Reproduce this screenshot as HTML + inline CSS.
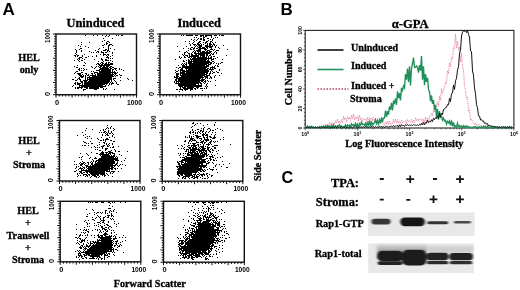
<!DOCTYPE html>
<html><head><meta charset="utf-8"><style>
html,body{margin:0;padding:0;background:#fff;}
svg{display:block;}
</style></head><body>
<svg width="520" height="290" viewBox="0 0 520 290">
<rect width="520" height="290" fill="#fff"/>
<defs><filter id="sb" x="0" y="0" width="100%" height="100%"><feGaussianBlur stdDeviation="0.5"/></filter></defs><g class="scat"><path d="M85 35.5h1M93 35.5h1M97 35.5h1M102 35.5h1M106 35.5h1M109 35.5h1M116 35.5h1M118 35.5h1M121 35.5h2M105 36.5h1M108 36.5h1M103 38.5h1M112 38.5h1M104 40.5h1M102 41.5h1M107 41.5h2M81 42.5h1M89 42.5h1M106 42.5h1M109 42.5h1M106 43.5h2M81 44.5h1M104 44.5h1M106 44.5h1M109 44.5h3M78 45.5h1M102 45.5h2M108 45.5h2M112 45.5h1M80 46.5h1M85 46.5h1M108 46.5h1M88 47.5h1M103 47.5h1M108 47.5h1M80 48.5h2M99 48.5h1M108 48.5h1M110 48.5h1M75 49.5h1M79 49.5h1M98 49.5h1M105 49.5h2M108 49.5h1M114 49.5h1M76 50.5h1M81 50.5h1M95 50.5h1M103 50.5h3M107 50.5h2M76 51.5h1M81 51.5h1M89 51.5h1M97 51.5h2M101 51.5h1M107 51.5h1M109 51.5h1M76 52.5h1M91 52.5h1M93 52.5h1M96 52.5h1M98 52.5h1M101 52.5h3M105 52.5h2M112 52.5h1M75 53.5h1M103 53.5h1M112 53.5h1M76 54.5h1M84 54.5h1M100 54.5h1M103 54.5h3M107 54.5h2M74 55.5h2M77 55.5h2M82 55.5h1M96 55.5h1M103 55.5h1M106 55.5h1M108 55.5h1M112 55.5h1M75 56.5h1M77 56.5h1M82 56.5h1M88 56.5h1M92 56.5h1M96 56.5h1M107 56.5h1M110 56.5h1M79 57.5h3M85 57.5h2M106 57.5h3M78 58.5h2M82 58.5h1M101 58.5h1M108 58.5h1M110 58.5h1M112 58.5h1M77 59.5h1M79 59.5h1M84 59.5h1M94 59.5h1M101 59.5h2M105 59.5h2M74 60.5h1M78 60.5h1M81 60.5h2M102 60.5h1M105 60.5h4M110 60.5h1M79 61.5h1M98 61.5h1M103 61.5h1M112 61.5h1M84 62.5h1M101 62.5h2M106 62.5h1M108 62.5h2M85 63.5h1M97 63.5h2M100 63.5h1M102 63.5h2M105 63.5h2M108 63.5h1M110 63.5h3M96 64.5h1M98 64.5h2M101 64.5h2M104 64.5h9M77 65.5h1M83 65.5h2M99 65.5h11M74 66.5h1M91 66.5h1M96 66.5h1M98 66.5h1M100 66.5h2M103 66.5h2M106 66.5h3M110 66.5h2M76 67.5h2M92 67.5h1M95 67.5h1M99 67.5h2M102 67.5h6M109 67.5h2M112 67.5h2M79 68.5h1M81 68.5h1M83 68.5h1M94 68.5h1M100 68.5h9M110 68.5h2M114 68.5h3M119 68.5h1M78 69.5h2M84 69.5h1M86 69.5h1M99 69.5h12M112 69.5h2M115 69.5h1M119 69.5h1M121 69.5h1M79 70.5h1M81 70.5h1M83 70.5h1M96 70.5h4M101 70.5h10M112 70.5h1M116 70.5h1M123 70.5h1M76 71.5h2M91 71.5h1M93 71.5h1M99 71.5h12M112 71.5h1M114 71.5h1M75 72.5h1M81 72.5h2M94 72.5h4M99 72.5h17M117 72.5h1M74 73.5h1M77 73.5h4M85 73.5h2M91 73.5h2M94 73.5h1M97 73.5h14M112 73.5h1M114 73.5h3M78 74.5h3M82 74.5h1M86 74.5h1M88 74.5h1M92 74.5h1M95 74.5h1M97 74.5h17M115 74.5h1M119 74.5h1M79 75.5h3M83 75.5h1M85 75.5h1M87 75.5h2M90 75.5h6M97 75.5h16M114 75.5h1M116 75.5h2M120 75.5h2M80 76.5h4M85 76.5h1M89 76.5h1M92 76.5h22M115 76.5h1M75 77.5h1M79 77.5h1M81 77.5h2M85 77.5h1M87 77.5h25M120 77.5h1M78 78.5h2M85 78.5h1M87 78.5h1M89 78.5h23M113 78.5h3M127 78.5h1M72 79.5h2M77 79.5h1M79 79.5h2M85 79.5h1M87 79.5h25M113 79.5h1M128 79.5h1M75 80.5h2M80 80.5h1M83 80.5h5M89 80.5h21M111 80.5h1M114 80.5h1M120 80.5h1M132 80.5h1M80 81.5h3M84 81.5h3M88 81.5h22M111 81.5h1M115 81.5h1M75 82.5h1M77 82.5h1M81 82.5h2M84 82.5h25M110 82.5h1M112 82.5h1M116 82.5h1M74 83.5h2M77 83.5h4M82 83.5h1M84 83.5h24M109 83.5h1M111 83.5h3M116 83.5h1M75 84.5h1M77 84.5h3M82 84.5h1M84 84.5h21M106 84.5h1M109 84.5h1M111 84.5h1M117 84.5h2M73 85.5h1M79 85.5h24M105 85.5h1M108 85.5h1M72 86.5h1M79 86.5h1M81 86.5h25M75 87.5h1M77 87.5h6M84 87.5h4M89 87.5h10M100 87.5h3M75 88.5h1M77 88.5h2M81 88.5h1M86 88.5h2M89 88.5h10M103 88.5h1M106 88.5h1M83 89.5h3M94 89.5h3M103 89.5h1M105 89.5h1M114 89.5h1M83 90.5h1" stroke="#000" stroke-width="1" fill="none" filter="url(#sb)"/><rect x="56" y="34" width="80.50" height="60.70" fill="none" stroke="#111" stroke-width="1.4"/><path d="M56 94.70h-3.0M56 92.27h-1.8M56 89.84h-1.8M56 87.42h-1.8M56 84.99h-1.8M56 82.56h-3.0M56 80.13h-1.8M56 77.70h-1.8M56 75.28h-1.8M56 72.85h-1.8M56 70.42h-3.0M56 67.99h-1.8M56 65.56h-1.8M56 63.14h-1.8M56 60.71h-1.8M56 58.28h-3.0M56 55.85h-1.8M56 53.42h-1.8M56 51.00h-1.8M56 48.57h-1.8M56 46.14h-3.0M56 43.71h-1.8M56 41.28h-1.8M56 38.86h-1.8M56 36.43h-1.8M56 34.00h-3.0M56.00 94.7v3.0M59.22 94.7v1.8M62.44 94.7v1.8M65.66 94.7v1.8M68.88 94.7v1.8M72.10 94.7v3.0M75.32 94.7v1.8M78.54 94.7v1.8M81.76 94.7v1.8M84.98 94.7v1.8M88.20 94.7v3.0M91.42 94.7v1.8M94.64 94.7v1.8M97.86 94.7v1.8M101.08 94.7v1.8M104.30 94.7v3.0M107.52 94.7v1.8M110.74 94.7v1.8M113.96 94.7v1.8M117.18 94.7v1.8M120.40 94.7v3.0M123.62 94.7v1.8M126.84 94.7v1.8M130.06 94.7v1.8M133.28 94.7v1.8M136.50 94.7v3.0" stroke="#111" stroke-width="1" fill="none"/><text x="49.7" y="36.0" transform="rotate(-90 49.7 36.0)" text-anchor="middle" font-family="'Liberation Sans', Arial, sans-serif" font-size="7.4" font-weight="bold" textLength="13.8" lengthAdjust="spacingAndGlyphs">1000</text><text x="49.7" y="93.9" transform="rotate(-90 49.7 93.9)" text-anchor="middle" font-family="'Liberation Sans', Arial, sans-serif" font-size="7.4" font-weight="bold">0</text><text x="57.0" y="104.8" text-anchor="middle" font-family="'Liberation Sans', Arial, sans-serif" font-size="7.4" font-weight="bold">0</text><text x="134.5" y="104.8" text-anchor="middle" font-family="'Liberation Sans', Arial, sans-serif" font-size="7.4" font-weight="bold" textLength="14.8" lengthAdjust="spacingAndGlyphs">1000</text><path d="M181 35.5h1M183 35.5h1M186 35.5h7M195 35.5h3M200 35.5h4M205 35.5h7M214 35.5h3M219 35.5h1M221 35.5h3M200 36.5h2M203 36.5h1M205 36.5h2M211 36.5h1M194 37.5h1M196 37.5h1M203 37.5h2M211 37.5h1M215 37.5h1M217 37.5h1M198 38.5h1M200 38.5h2M203 38.5h1M207 38.5h2M213 38.5h1M191 39.5h1M194 39.5h1M197 39.5h1M200 39.5h2M203 39.5h2M210 39.5h1M212 39.5h1M193 40.5h1M196 40.5h1M203 40.5h2M208 40.5h1M212 40.5h1M185 41.5h1M189 41.5h1M194 41.5h1M199 41.5h2M206 41.5h2M210 41.5h2M193 42.5h1M198 42.5h2M203 42.5h1M205 42.5h2M210 42.5h1M212 42.5h1M215 42.5h1M189 43.5h1M192 43.5h1M197 43.5h2M200 43.5h1M205 43.5h1M207 43.5h1M209 43.5h2M213 43.5h1M190 44.5h1M193 44.5h3M197 44.5h3M201 44.5h1M203 44.5h1M207 44.5h1M209 44.5h3M213 44.5h2M190 45.5h1M194 45.5h1M196 45.5h1M198 45.5h4M205 45.5h3M209 45.5h2M212 45.5h1M214 45.5h1M216 45.5h1M223 45.5h1M177 46.5h1M186 46.5h1M195 46.5h1M197 46.5h1M199 46.5h3M205 46.5h8M215 46.5h1M191 47.5h2M194 47.5h1M198 47.5h3M202 47.5h3M206 47.5h2M209 47.5h3M215 47.5h1M218 47.5h1M183 48.5h1M188 48.5h1M190 48.5h1M193 48.5h2M196 48.5h2M199 48.5h7M207 48.5h1M211 48.5h1M219 48.5h1M190 49.5h2M193 49.5h1M198 49.5h3M204 49.5h3M210 49.5h3M214 49.5h1M227 49.5h1M188 50.5h1M194 50.5h1M196 50.5h5M205 50.5h1M207 50.5h3M213 50.5h1M216 50.5h3M179 51.5h1M186 51.5h1M193 51.5h1M195 51.5h1M197 51.5h4M202 51.5h3M206 51.5h2M209 51.5h3M215 51.5h1M184 52.5h2M187 52.5h1M192 52.5h1M194 52.5h2M198 52.5h1M200 52.5h11M214 52.5h1M216 52.5h1M184 53.5h1M188 53.5h2M191 53.5h1M194 53.5h16M211 53.5h1M213 53.5h1M216 53.5h1M182 54.5h1M184 54.5h1M189 54.5h1M191 54.5h2M195 54.5h2M198 54.5h7M206 54.5h2M210 54.5h1M212 54.5h2M183 55.5h1M185 55.5h3M189 55.5h1M191 55.5h8M200 55.5h5M206 55.5h2M209 55.5h2M226 55.5h1M179 56.5h1M184 56.5h1M187 56.5h1M189 56.5h10M200 56.5h1M202 56.5h3M206 56.5h1M208 56.5h1M211 56.5h1M213 56.5h2M179 57.5h1M181 57.5h1M184 57.5h2M188 57.5h2M191 57.5h1M193 57.5h3M197 57.5h10M208 57.5h1M210 57.5h2M217 57.5h1M180 58.5h1M190 58.5h1M192 58.5h20M213 58.5h1M215 58.5h1M175 59.5h1M188 59.5h1M190 59.5h17M208 59.5h1M211 59.5h3M222 59.5h1M183 60.5h1M186 60.5h1M188 60.5h2M191 60.5h1M193 60.5h13M207 60.5h2M211 60.5h1M183 61.5h2M188 61.5h22M212 61.5h2M186 62.5h1M188 62.5h4M193 62.5h19M214 62.5h1M221 62.5h2M182 63.5h1M184 63.5h1M186 63.5h1M188 63.5h21M210 63.5h2M213 63.5h1M216 63.5h1M218 63.5h1M220 63.5h1M181 64.5h1M183 64.5h1M185 64.5h2M189 64.5h18M208 64.5h3M218 64.5h1M178 65.5h1M182 65.5h3M186 65.5h1M189 65.5h16M206 65.5h3M215 65.5h1M217 65.5h1M182 66.5h27M212 66.5h1M214 66.5h1M217 66.5h2M176 67.5h1M179 67.5h2M182 67.5h25M210 67.5h5M178 68.5h1M181 68.5h2M185 68.5h21M207 68.5h2M210 68.5h1M212 68.5h1M214 68.5h2M180 69.5h3M186 69.5h1M188 69.5h20M209 69.5h5M219 69.5h1M175 70.5h1M178 70.5h1M180 70.5h5M186 70.5h23M211 70.5h1M219 70.5h1M176 71.5h2M180 71.5h1M182 71.5h27M210 71.5h1M212 71.5h1M216 71.5h1M175 72.5h1M180 72.5h5M186 72.5h22M210 72.5h1M213 72.5h2M217 72.5h2M176 73.5h3M180 73.5h25M206 73.5h2M209 73.5h2M212 73.5h1M221 73.5h1M176 74.5h3M180 74.5h1M182 74.5h25M209 74.5h1M176 75.5h2M180 75.5h25M206 75.5h4M215 75.5h1M219 75.5h1M174 76.5h1M176 76.5h3M181 76.5h22M204 76.5h4M210 76.5h1M214 76.5h1M174 77.5h4M179 77.5h25M205 77.5h3M210 77.5h2M214 77.5h1M176 78.5h25M202 78.5h1M205 78.5h1M207 78.5h1M209 78.5h1M211 78.5h1M175 79.5h2M178 79.5h22M201 79.5h4M175 80.5h2M178 80.5h26M205 80.5h1M207 80.5h1M215 80.5h1M174 81.5h1M176 81.5h24M201 81.5h2M204 81.5h2M208 81.5h1M210 81.5h1M174 82.5h1M176 82.5h1M178 82.5h1M180 82.5h21M203 82.5h1M205 82.5h1M175 83.5h24M200 83.5h2M204 83.5h1M207 83.5h1M178 84.5h18M198 84.5h1M201 84.5h1M206 84.5h1M178 85.5h24M206 85.5h1M215 85.5h1M179 86.5h4M184 86.5h18M205 86.5h1M207 86.5h1M180 87.5h1M182 87.5h4M187 87.5h7M196 87.5h3M206 87.5h1M180 88.5h1M183 88.5h10M194 88.5h2M197 88.5h1M200 88.5h3M204 88.5h1M206 88.5h1M176 89.5h2M179 89.5h4M184 89.5h4M190 89.5h3M195 89.5h1M182 90.5h1M185 90.5h1M190 90.5h1M202 90.5h1M179 91.5h1" stroke="#000" stroke-width="1" fill="none" filter="url(#sb)"/><rect x="160" y="34" width="80.50" height="60.70" fill="none" stroke="#111" stroke-width="1.4"/><path d="M160 94.70h-3.0M160 92.27h-1.8M160 89.84h-1.8M160 87.42h-1.8M160 84.99h-1.8M160 82.56h-3.0M160 80.13h-1.8M160 77.70h-1.8M160 75.28h-1.8M160 72.85h-1.8M160 70.42h-3.0M160 67.99h-1.8M160 65.56h-1.8M160 63.14h-1.8M160 60.71h-1.8M160 58.28h-3.0M160 55.85h-1.8M160 53.42h-1.8M160 51.00h-1.8M160 48.57h-1.8M160 46.14h-3.0M160 43.71h-1.8M160 41.28h-1.8M160 38.86h-1.8M160 36.43h-1.8M160 34.00h-3.0M160.00 94.7v3.0M163.22 94.7v1.8M166.44 94.7v1.8M169.66 94.7v1.8M172.88 94.7v1.8M176.10 94.7v3.0M179.32 94.7v1.8M182.54 94.7v1.8M185.76 94.7v1.8M188.98 94.7v1.8M192.20 94.7v3.0M195.42 94.7v1.8M198.64 94.7v1.8M201.86 94.7v1.8M205.08 94.7v1.8M208.30 94.7v3.0M211.52 94.7v1.8M214.74 94.7v1.8M217.96 94.7v1.8M221.18 94.7v1.8M224.40 94.7v3.0M227.62 94.7v1.8M230.84 94.7v1.8M234.06 94.7v1.8M237.28 94.7v1.8M240.50 94.7v3.0" stroke="#111" stroke-width="1" fill="none"/><text x="153.7" y="36.0" transform="rotate(-90 153.7 36.0)" text-anchor="middle" font-family="'Liberation Sans', Arial, sans-serif" font-size="7.4" font-weight="bold" textLength="13.8" lengthAdjust="spacingAndGlyphs">1000</text><text x="153.7" y="93.9" transform="rotate(-90 153.7 93.9)" text-anchor="middle" font-family="'Liberation Sans', Arial, sans-serif" font-size="7.4" font-weight="bold">0</text><text x="161.0" y="104.8" text-anchor="middle" font-family="'Liberation Sans', Arial, sans-serif" font-size="7.4" font-weight="bold">0</text><text x="238.5" y="104.8" text-anchor="middle" font-family="'Liberation Sans', Arial, sans-serif" font-size="7.4" font-weight="bold" textLength="14.8" lengthAdjust="spacingAndGlyphs">1000</text><path d="M107 125.5h1M111 126.5h1M107 127.5h1M110 127.5h1M86 128.5h1M106 128.5h1M108 128.5h1M110 128.5h1M113 128.5h1M92 129.5h1M103 129.5h1M105 129.5h1M114 129.5h1M85 130.5h1M100 130.5h1M103 130.5h1M108 130.5h1M113 130.5h1M104 131.5h2M108 131.5h1M111 131.5h1M82 132.5h1M99 132.5h1M101 132.5h1M103 132.5h2M106 132.5h1M108 132.5h1M111 132.5h1M105 133.5h1M107 133.5h1M109 133.5h2M112 133.5h1M85 134.5h1M102 134.5h1M106 134.5h2M113 134.5h1M77 135.5h1M83 135.5h1M102 135.5h1M105 135.5h1M107 135.5h2M112 135.5h1M87 136.5h1M89 136.5h1M112 136.5h1M85 137.5h1M101 137.5h1M109 137.5h1M114 137.5h1M87 138.5h1M91 138.5h1M97 138.5h1M106 138.5h2M98 139.5h1M103 139.5h1M105 139.5h4M100 140.5h2M103 140.5h1M105 140.5h1M110 140.5h2M83 141.5h1M90 141.5h1M105 141.5h1M113 141.5h2M84 142.5h2M99 142.5h1M103 142.5h2M86 143.5h1M88 143.5h1M91 143.5h2M104 143.5h1M106 143.5h1M109 143.5h1M112 143.5h1M99 144.5h1M106 144.5h1M108 144.5h1M112 144.5h1M82 145.5h1M84 145.5h2M88 145.5h1M97 145.5h1M103 145.5h2M107 145.5h1M109 145.5h1M94 146.5h1M101 146.5h3M107 146.5h2M113 146.5h1M118 146.5h1M91 147.5h1M95 147.5h1M97 147.5h1M99 147.5h1M102 147.5h1M110 147.5h1M112 147.5h2M102 148.5h1M105 148.5h3M95 149.5h1M97 149.5h1M105 149.5h2M114 149.5h1M99 150.5h2M105 150.5h1M111 150.5h1M115 150.5h1M102 151.5h1M108 151.5h3M115 151.5h1M118 151.5h2M127 151.5h1M91 152.5h1M101 152.5h3M105 152.5h3M109 152.5h4M80 153.5h1M86 153.5h1M96 153.5h2M100 153.5h4M106 153.5h1M108 153.5h3M112 153.5h3M87 154.5h1M99 154.5h10M110 154.5h1M114 154.5h1M119 154.5h1M88 155.5h1M100 155.5h1M102 155.5h8M111 155.5h1M113 155.5h2M121 155.5h1M82 156.5h1M101 156.5h14M116 156.5h1M79 157.5h1M81 157.5h1M90 157.5h1M95 157.5h1M101 157.5h13M115 157.5h1M117 157.5h1M89 158.5h1M94 158.5h3M99 158.5h19M125 158.5h1M81 159.5h1M92 159.5h1M98 159.5h20M93 160.5h1M96 160.5h18M115 160.5h4M124 160.5h1M74 161.5h1M82 161.5h1M91 161.5h1M93 161.5h1M95 161.5h2M98 161.5h17M117 161.5h1M121 161.5h1M80 162.5h1M83 162.5h2M87 162.5h2M90 162.5h1M92 162.5h1M95 162.5h1M97 162.5h18M117 162.5h1M79 163.5h1M81 163.5h3M85 163.5h1M88 163.5h1M91 163.5h2M95 163.5h20M116 163.5h2M74 164.5h1M76 164.5h1M80 164.5h3M84 164.5h1M88 164.5h1M91 164.5h2M94 164.5h19M115 164.5h2M120 164.5h1M122 164.5h1M80 165.5h2M85 165.5h3M90 165.5h1M92 165.5h24M117 165.5h1M119 165.5h1M125 165.5h1M76 166.5h1M78 166.5h1M82 166.5h1M86 166.5h27M114 166.5h1M118 166.5h1M76 167.5h1M80 167.5h1M83 167.5h2M86 167.5h1M88 167.5h22M111 167.5h3M75 168.5h1M79 168.5h4M84 168.5h1M87 168.5h26M114 168.5h2M117 168.5h1M121 168.5h1M78 169.5h1M81 169.5h1M83 169.5h1M86 169.5h1M88 169.5h22M111 169.5h2M115 169.5h1M76 170.5h1M81 170.5h27M109 170.5h1M74 171.5h2M79 171.5h3M85 171.5h20M106 171.5h4M111 171.5h4M118 171.5h1M80 172.5h2M83 172.5h2M86 172.5h2M89 172.5h16M110 172.5h1M113 172.5h1M77 173.5h1M79 173.5h1M81 173.5h2M87 173.5h1M90 173.5h15M106 173.5h1M110 173.5h1M112 173.5h1M77 174.5h1M83 174.5h4M88 174.5h2M91 174.5h8M100 174.5h5M107 174.5h1M78 175.5h1M80 175.5h1M83 175.5h1M86 175.5h2M89 175.5h1M92 175.5h4M97 175.5h2M102 175.5h1M104 175.5h2M108 175.5h1M77 176.5h1M85 176.5h1M87 176.5h1M91 176.5h1M94 176.5h3M99 176.5h1M104 176.5h1M112 176.5h1M90 177.5h1M96 177.5h1M98 177.5h1" stroke="#000" stroke-width="1" fill="none" filter="url(#sb)"/><rect x="59.5" y="120.5" width="80.50" height="60.50" fill="none" stroke="#111" stroke-width="1.4"/><path d="M59.5 181.00h-3.0M59.5 178.58h-1.8M59.5 176.16h-1.8M59.5 173.74h-1.8M59.5 171.32h-1.8M59.5 168.90h-3.0M59.5 166.48h-1.8M59.5 164.06h-1.8M59.5 161.64h-1.8M59.5 159.22h-1.8M59.5 156.80h-3.0M59.5 154.38h-1.8M59.5 151.96h-1.8M59.5 149.54h-1.8M59.5 147.12h-1.8M59.5 144.70h-3.0M59.5 142.28h-1.8M59.5 139.86h-1.8M59.5 137.44h-1.8M59.5 135.02h-1.8M59.5 132.60h-3.0M59.5 130.18h-1.8M59.5 127.76h-1.8M59.5 125.34h-1.8M59.5 122.92h-1.8M59.5 120.50h-3.0M59.50 181v3.0M62.72 181v1.8M65.94 181v1.8M69.16 181v1.8M72.38 181v1.8M75.60 181v3.0M78.82 181v1.8M82.04 181v1.8M85.26 181v1.8M88.48 181v1.8M91.70 181v3.0M94.92 181v1.8M98.14 181v1.8M101.36 181v1.8M104.58 181v1.8M107.80 181v3.0M111.02 181v1.8M114.24 181v1.8M117.46 181v1.8M120.68 181v1.8M123.90 181v3.0M127.12 181v1.8M130.34 181v1.8M133.56 181v1.8M136.78 181v1.8M140.00 181v3.0" stroke="#111" stroke-width="1" fill="none"/><text x="53.2" y="122.5" transform="rotate(-90 53.2 122.5)" text-anchor="middle" font-family="'Liberation Sans', Arial, sans-serif" font-size="7.4" font-weight="bold" textLength="13.8" lengthAdjust="spacingAndGlyphs">1000</text><text x="53.2" y="180.2" transform="rotate(-90 53.2 180.2)" text-anchor="middle" font-family="'Liberation Sans', Arial, sans-serif" font-size="7.4" font-weight="bold">0</text><text x="60.5" y="191.1" text-anchor="middle" font-family="'Liberation Sans', Arial, sans-serif" font-size="7.4" font-weight="bold">0</text><text x="138.0" y="191.1" text-anchor="middle" font-family="'Liberation Sans', Arial, sans-serif" font-size="7.4" font-weight="bold" textLength="14.8" lengthAdjust="spacingAndGlyphs">1000</text><path d="M193 122.5h1M215 122.5h1M192 123.5h2M197 123.5h1M200 123.5h1M195 124.5h1M207 124.5h1M214 124.5h1M194 125.5h1M203 125.5h1M214 125.5h1M192 126.5h1M191 127.5h1M204 127.5h1M201 128.5h1M203 128.5h1M208 128.5h2M217 128.5h1M192 129.5h1M197 129.5h2M203 129.5h1M207 129.5h1M210 129.5h1M215 129.5h1M220 129.5h1M192 130.5h1M195 130.5h1M200 130.5h2M203 130.5h1M210 130.5h1M212 130.5h2M222 130.5h1M190 131.5h1M193 131.5h1M198 131.5h1M200 131.5h1M202 131.5h2M206 131.5h1M209 131.5h1M189 132.5h2M192 132.5h2M195 132.5h1M197 132.5h1M199 132.5h1M202 132.5h1M205 132.5h1M208 132.5h1M212 132.5h1M215 132.5h1M190 133.5h1M195 133.5h1M197 133.5h1M200 133.5h1M203 133.5h1M205 133.5h1M193 134.5h1M202 134.5h3M206 134.5h2M211 134.5h1M215 134.5h1M189 135.5h1M195 135.5h3M202 135.5h2M205 135.5h3M214 135.5h1M185 136.5h1M189 136.5h1M191 136.5h1M193 136.5h1M196 136.5h5M203 136.5h1M207 136.5h1M209 136.5h2M214 136.5h1M185 137.5h1M187 137.5h1M189 137.5h1M191 137.5h1M196 137.5h3M203 137.5h2M206 137.5h2M210 137.5h2M213 137.5h3M223 137.5h1M190 138.5h4M197 138.5h1M199 138.5h3M204 138.5h1M207 138.5h1M212 138.5h3M190 139.5h3M194 139.5h1M201 139.5h1M204 139.5h5M210 139.5h1M220 139.5h1M223 139.5h1M185 140.5h1M189 140.5h2M192 140.5h4M200 140.5h1M203 140.5h1M205 140.5h4M211 140.5h1M184 141.5h2M189 141.5h1M191 141.5h1M196 141.5h1M201 141.5h3M206 141.5h1M210 141.5h2M213 141.5h1M215 141.5h1M217 141.5h1M188 142.5h1M196 142.5h3M200 142.5h3M204 142.5h2M209 142.5h2M214 142.5h1M188 143.5h1M190 143.5h1M192 143.5h4M202 143.5h1M204 143.5h1M208 143.5h1M210 143.5h1M184 144.5h1M193 144.5h2M197 144.5h2M200 144.5h1M203 144.5h1M206 144.5h4M211 144.5h1M230 144.5h1M177 145.5h1M181 145.5h1M188 145.5h2M191 145.5h6M198 145.5h1M203 145.5h1M208 145.5h1M214 145.5h4M182 146.5h1M187 146.5h1M191 146.5h1M193 146.5h3M198 146.5h1M200 146.5h4M205 146.5h1M207 146.5h1M212 146.5h2M184 147.5h1M188 147.5h3M192 147.5h2M195 147.5h2M199 147.5h1M201 147.5h3M207 147.5h3M214 147.5h2M178 148.5h1M181 148.5h1M183 148.5h1M189 148.5h2M192 148.5h5M198 148.5h1M200 148.5h1M202 148.5h4M207 148.5h2M211 148.5h1M214 148.5h2M184 149.5h1M186 149.5h3M190 149.5h10M201 149.5h4M207 149.5h2M210 149.5h1M212 149.5h1M186 150.5h1M188 150.5h1M190 150.5h6M198 150.5h9M208 150.5h2M212 150.5h2M218 150.5h1M185 151.5h2M188 151.5h1M190 151.5h1M192 151.5h3M196 151.5h2M199 151.5h3M203 151.5h1M205 151.5h2M209 151.5h2M216 151.5h1M188 152.5h8M197 152.5h1M199 152.5h1M201 152.5h4M206 152.5h1M210 152.5h1M212 152.5h1M178 153.5h1M180 153.5h1M183 153.5h1M185 153.5h1M187 153.5h2M190 153.5h3M194 153.5h5M200 153.5h3M204 153.5h3M217 153.5h1M180 154.5h1M187 154.5h3M191 154.5h8M200 154.5h1M202 154.5h5M208 154.5h1M211 154.5h1M179 155.5h1M183 155.5h1M187 155.5h18M206 155.5h2M212 155.5h1M214 155.5h1M185 156.5h2M191 156.5h14M206 156.5h1M209 156.5h4M222 156.5h1M180 157.5h1M182 157.5h3M186 157.5h18M210 157.5h1M212 157.5h2M217 157.5h1M220 157.5h1M184 158.5h18M206 158.5h2M209 158.5h2M215 158.5h1M182 159.5h24M210 159.5h2M213 159.5h1M181 160.5h19M201 160.5h4M208 160.5h1M210 160.5h1M213 160.5h2M216 160.5h1M177 161.5h1M179 161.5h4M185 161.5h21M207 161.5h1M222 161.5h1M177 162.5h2M181 162.5h3M185 162.5h1M187 162.5h19M208 162.5h2M212 162.5h1M178 163.5h2M181 163.5h1M184 163.5h19M206 163.5h3M213 163.5h1M229 163.5h1M178 164.5h2M181 164.5h19M201 164.5h2M206 164.5h1M216 164.5h1M219 164.5h1M223 164.5h1M179 165.5h2M182 165.5h25M215 165.5h1M176 166.5h30M215 166.5h1M221 166.5h1M177 167.5h1M179 167.5h20M200 167.5h2M203 167.5h2M206 167.5h1M213 167.5h1M226 167.5h2M178 168.5h24M209 168.5h1M177 169.5h26M204 169.5h1M207 169.5h1M210 169.5h4M216 169.5h1M178 170.5h23M202 170.5h2M205 170.5h1M212 170.5h1M177 171.5h21M200 171.5h2M203 171.5h2M177 172.5h20M198 172.5h1M217 172.5h1M177 173.5h15M195 173.5h1M199 173.5h1M203 173.5h1M206 173.5h2M177 174.5h2M180 174.5h3M184 174.5h8M193 174.5h3M197 174.5h2M200 174.5h5M206 174.5h1M209 174.5h1M178 175.5h2M181 175.5h2M185 175.5h8M194 175.5h1M196 175.5h1M199 175.5h1M201 175.5h2M204 175.5h1M207 175.5h1M211 175.5h2M179 176.5h1M183 176.5h7M192 176.5h3M196 176.5h3M202 176.5h1M207 176.5h1M211 176.5h1M182 177.5h2M185 177.5h1M188 177.5h1M191 177.5h2M194 177.5h4M200 177.5h1M208 177.5h1M178 178.5h1M182 178.5h1M184 178.5h2M189 178.5h1M193 178.5h2M197 178.5h1M202 178.5h1M204 178.5h2M207 178.5h1" stroke="#000" stroke-width="1" fill="none" filter="url(#sb)"/><rect x="162.2" y="120.5" width="80.60" height="60.70" fill="none" stroke="#111" stroke-width="1.4"/><path d="M162.2 181.20h-3.0M162.2 178.77h-1.8M162.2 176.34h-1.8M162.2 173.92h-1.8M162.2 171.49h-1.8M162.2 169.06h-3.0M162.2 166.63h-1.8M162.2 164.20h-1.8M162.2 161.78h-1.8M162.2 159.35h-1.8M162.2 156.92h-3.0M162.2 154.49h-1.8M162.2 152.06h-1.8M162.2 149.64h-1.8M162.2 147.21h-1.8M162.2 144.78h-3.0M162.2 142.35h-1.8M162.2 139.92h-1.8M162.2 137.50h-1.8M162.2 135.07h-1.8M162.2 132.64h-3.0M162.2 130.21h-1.8M162.2 127.78h-1.8M162.2 125.36h-1.8M162.2 122.93h-1.8M162.2 120.50h-3.0M162.20 181.2v3.0M165.42 181.2v1.8M168.65 181.2v1.8M171.87 181.2v1.8M175.10 181.2v1.8M178.32 181.2v3.0M181.54 181.2v1.8M184.77 181.2v1.8M187.99 181.2v1.8M191.22 181.2v1.8M194.44 181.2v3.0M197.66 181.2v1.8M200.89 181.2v1.8M204.11 181.2v1.8M207.34 181.2v1.8M210.56 181.2v3.0M213.78 181.2v1.8M217.01 181.2v1.8M220.23 181.2v1.8M223.46 181.2v1.8M226.68 181.2v3.0M229.90 181.2v1.8M233.13 181.2v1.8M236.35 181.2v1.8M239.58 181.2v1.8M242.80 181.2v3.0" stroke="#111" stroke-width="1" fill="none"/><text x="155.9" y="122.5" transform="rotate(-90 155.9 122.5)" text-anchor="middle" font-family="'Liberation Sans', Arial, sans-serif" font-size="7.4" font-weight="bold" textLength="13.8" lengthAdjust="spacingAndGlyphs">1000</text><text x="155.9" y="180.4" transform="rotate(-90 155.9 180.4)" text-anchor="middle" font-family="'Liberation Sans', Arial, sans-serif" font-size="7.4" font-weight="bold">0</text><text x="163.2" y="191.3" text-anchor="middle" font-family="'Liberation Sans', Arial, sans-serif" font-size="7.4" font-weight="bold">0</text><text x="240.8" y="191.3" text-anchor="middle" font-family="'Liberation Sans', Arial, sans-serif" font-size="7.4" font-weight="bold" textLength="14.8" lengthAdjust="spacingAndGlyphs">1000</text><path d="M88 202.5h1M90 202.5h1M92 202.5h1M95 202.5h3M101 202.5h3M108 202.5h2M112 202.5h1M114 202.5h1M120 202.5h1M125 202.5h1M110 203.5h1M109 205.5h1M112 206.5h1M108 208.5h3M86 209.5h1M92 209.5h1M114 209.5h1M93 210.5h1M105 210.5h2M110 210.5h1M113 210.5h1M105 211.5h1M109 211.5h1M111 211.5h1M113 211.5h1M94 212.5h1M97 212.5h2M100 212.5h1M102 212.5h1M105 212.5h1M109 212.5h1M116 212.5h1M89 213.5h1M96 213.5h1M101 213.5h1M105 213.5h1M107 213.5h1M111 213.5h1M87 214.5h1M94 214.5h1M111 214.5h1M97 215.5h1M107 215.5h3M111 215.5h2M86 216.5h2M98 216.5h1M100 216.5h1M105 216.5h1M108 216.5h1M111 216.5h1M113 216.5h1M92 217.5h1M96 217.5h1M99 217.5h1M103 217.5h2M107 217.5h2M95 218.5h1M100 218.5h1M103 218.5h1M110 218.5h1M112 218.5h1M92 219.5h2M100 219.5h1M103 219.5h1M111 219.5h1M113 219.5h1M85 220.5h1M88 220.5h1M94 220.5h1M101 220.5h4M84 221.5h1M100 221.5h1M103 221.5h1M108 221.5h1M114 221.5h1M86 222.5h1M97 222.5h3M102 222.5h2M108 222.5h1M87 223.5h1M89 223.5h1M94 223.5h1M100 223.5h1M104 223.5h1M114 223.5h1M118 223.5h1M76 224.5h1M87 224.5h1M98 224.5h1M106 224.5h2M116 224.5h1M94 225.5h1M96 225.5h1M100 225.5h1M104 225.5h1M107 225.5h2M87 226.5h1M89 226.5h1M98 226.5h1M101 226.5h2M109 226.5h2M116 226.5h1M84 227.5h1M101 227.5h2M105 227.5h2M108 227.5h1M111 227.5h1M102 228.5h3M108 228.5h1M76 229.5h1M80 229.5h1M84 229.5h1M86 229.5h1M88 229.5h1M95 229.5h1M97 229.5h1M99 229.5h1M102 229.5h1M104 229.5h3M109 229.5h1M83 230.5h1M85 230.5h2M92 230.5h1M97 230.5h1M100 230.5h1M105 230.5h1M107 230.5h1M111 230.5h1M113 230.5h1M87 231.5h2M100 231.5h1M103 231.5h1M106 231.5h2M81 232.5h1M83 232.5h1M85 232.5h1M88 232.5h1M99 232.5h1M101 232.5h1M105 232.5h1M111 232.5h1M114 232.5h1M84 233.5h1M104 233.5h3M111 233.5h1M76 234.5h1M80 234.5h1M87 234.5h1M98 234.5h1M103 234.5h5M116 234.5h1M79 235.5h2M82 235.5h1M85 235.5h1M87 235.5h1M91 235.5h1M94 235.5h1M97 235.5h2M100 235.5h3M104 235.5h2M109 235.5h1M111 235.5h1M114 235.5h1M123 235.5h1M79 236.5h1M98 236.5h2M101 236.5h2M105 236.5h7M113 236.5h1M115 236.5h1M75 237.5h2M78 237.5h1M86 237.5h1M94 237.5h1M98 237.5h13M115 237.5h1M119 237.5h1M122 237.5h1M125 237.5h1M77 238.5h1M79 238.5h2M85 238.5h1M100 238.5h12M113 238.5h4M80 239.5h1M82 239.5h1M84 239.5h1M97 239.5h1M99 239.5h1M101 239.5h10M113 239.5h2M77 240.5h1M81 240.5h4M87 240.5h1M97 240.5h16M117 240.5h1M125 240.5h1M79 241.5h1M81 241.5h2M84 241.5h1M90 241.5h1M92 241.5h2M95 241.5h1M97 241.5h2M101 241.5h11M113 241.5h1M115 241.5h3M122 241.5h1M77 242.5h1M80 242.5h2M87 242.5h1M90 242.5h1M93 242.5h20M116 242.5h1M120 242.5h1M76 243.5h1M78 243.5h1M83 243.5h1M88 243.5h1M90 243.5h3M94 243.5h1M96 243.5h16M113 243.5h1M115 243.5h2M118 243.5h1M79 244.5h1M83 244.5h1M86 244.5h1M90 244.5h1M93 244.5h1M95 244.5h18M116 244.5h1M120 244.5h1M81 245.5h2M86 245.5h2M89 245.5h2M92 245.5h21M114 245.5h2M117 245.5h1M119 245.5h1M121 245.5h1M80 246.5h1M82 246.5h1M84 246.5h1M86 246.5h4M91 246.5h21M114 246.5h1M118 246.5h2M79 247.5h3M83 247.5h1M85 247.5h1M88 247.5h1M90 247.5h23M117 247.5h1M80 248.5h2M84 248.5h3M89 248.5h23M113 248.5h1M83 249.5h1M85 249.5h1M87 249.5h27M115 249.5h2M77 250.5h1M79 250.5h1M84 250.5h1M87 250.5h22M110 250.5h2M113 250.5h1M117 250.5h1M75 251.5h1M78 251.5h1M80 251.5h1M83 251.5h1M85 251.5h27M113 251.5h1M79 252.5h1M81 252.5h26M112 252.5h1M114 252.5h1M123 252.5h1M78 253.5h3M85 253.5h20M106 253.5h1M108 253.5h2M78 254.5h1M80 254.5h1M83 254.5h2M86 254.5h4M91 254.5h12M104 254.5h2M107 254.5h1M109 254.5h1M113 254.5h1M78 255.5h4M84 255.5h3M88 255.5h12M101 255.5h1M104 255.5h4M114 255.5h1M76 256.5h1M79 256.5h1M81 256.5h2M84 256.5h1M90 256.5h10M104 256.5h1M108 256.5h2M76 257.5h1M78 257.5h1M81 257.5h1M85 257.5h2M92 257.5h2M97 257.5h1M99 257.5h2M104 257.5h1M107 257.5h1M82 258.5h2M86 258.5h1M89 258.5h6M96 258.5h1M98 258.5h1M101 258.5h2M104 258.5h1M79 259.5h1M98 259.5h1M101 259.5h1M104 259.5h1" stroke="#000" stroke-width="1" fill="none" filter="url(#sb)"/><rect x="60.2" y="201.3" width="80.60" height="60.50" fill="none" stroke="#111" stroke-width="1.4"/><path d="M60.2 261.80h-3.0M60.2 259.38h-1.8M60.2 256.96h-1.8M60.2 254.54h-1.8M60.2 252.12h-1.8M60.2 249.70h-3.0M60.2 247.28h-1.8M60.2 244.86h-1.8M60.2 242.44h-1.8M60.2 240.02h-1.8M60.2 237.60h-3.0M60.2 235.18h-1.8M60.2 232.76h-1.8M60.2 230.34h-1.8M60.2 227.92h-1.8M60.2 225.50h-3.0M60.2 223.08h-1.8M60.2 220.66h-1.8M60.2 218.24h-1.8M60.2 215.82h-1.8M60.2 213.40h-3.0M60.2 210.98h-1.8M60.2 208.56h-1.8M60.2 206.14h-1.8M60.2 203.72h-1.8M60.2 201.30h-3.0M60.20 261.8v3.0M63.42 261.8v1.8M66.65 261.8v1.8M69.87 261.8v1.8M73.10 261.8v1.8M76.32 261.8v3.0M79.54 261.8v1.8M82.77 261.8v1.8M85.99 261.8v1.8M89.22 261.8v1.8M92.44 261.8v3.0M95.66 261.8v1.8M98.89 261.8v1.8M102.11 261.8v1.8M105.34 261.8v1.8M108.56 261.8v3.0M111.78 261.8v1.8M115.01 261.8v1.8M118.23 261.8v1.8M121.46 261.8v1.8M124.68 261.8v3.0M127.90 261.8v1.8M131.13 261.8v1.8M134.35 261.8v1.8M137.58 261.8v1.8M140.80 261.8v3.0" stroke="#111" stroke-width="1" fill="none"/><text x="53.9" y="203.3" transform="rotate(-90 53.9 203.3)" text-anchor="middle" font-family="'Liberation Sans', Arial, sans-serif" font-size="7.4" font-weight="bold" textLength="13.8" lengthAdjust="spacingAndGlyphs">1000</text><text x="53.9" y="261.0" transform="rotate(-90 53.9 261.0)" text-anchor="middle" font-family="'Liberation Sans', Arial, sans-serif" font-size="7.4" font-weight="bold">0</text><text x="61.2" y="271.9" text-anchor="middle" font-family="'Liberation Sans', Arial, sans-serif" font-size="7.4" font-weight="bold">0</text><text x="138.8" y="271.9" text-anchor="middle" font-family="'Liberation Sans', Arial, sans-serif" font-size="7.4" font-weight="bold" textLength="14.8" lengthAdjust="spacingAndGlyphs">1000</text><path d="M188 202.5h1M190 202.5h1M193 202.5h2M196 202.5h3M202 202.5h4M208 202.5h2M211 202.5h4M216 202.5h3M221 202.5h1M226 202.5h1M203 203.5h1M210 203.5h1M212 203.5h2M195 204.5h1M204 204.5h2M210 205.5h1M212 205.5h2M192 206.5h1M202 206.5h1M207 206.5h1M208 207.5h1M211 207.5h1M213 207.5h1M198 208.5h1M203 208.5h1M206 208.5h1M208 208.5h2M217 208.5h1M194 209.5h1M208 209.5h1M210 209.5h1M213 209.5h1M221 209.5h1M191 210.5h1M198 210.5h1M202 210.5h1M208 210.5h1M222 210.5h1M204 211.5h1M206 211.5h1M208 211.5h1M219 211.5h1M188 212.5h1M193 212.5h1M199 212.5h1M201 212.5h1M203 212.5h1M205 212.5h1M210 212.5h1M215 212.5h1M224 212.5h1M195 213.5h1M197 213.5h1M203 213.5h1M207 213.5h1M210 213.5h3M221 213.5h1M198 214.5h1M205 214.5h1M207 214.5h1M210 214.5h2M213 214.5h1M193 215.5h2M197 215.5h1M200 215.5h1M202 215.5h1M204 215.5h2M209 215.5h2M212 215.5h2M215 215.5h1M189 216.5h1M195 216.5h1M198 216.5h2M203 216.5h3M207 216.5h1M209 216.5h1M211 216.5h1M213 216.5h2M218 216.5h1M197 217.5h1M200 217.5h1M203 217.5h1M205 217.5h6M214 217.5h4M191 218.5h1M193 218.5h1M198 218.5h4M203 218.5h1M206 218.5h1M208 218.5h1M212 218.5h2M215 218.5h2M183 219.5h1M193 219.5h1M199 219.5h2M203 219.5h2M206 219.5h3M210 219.5h2M216 219.5h1M219 219.5h1M221 219.5h1M188 220.5h1M194 220.5h1M196 220.5h6M206 220.5h5M212 220.5h3M216 220.5h1M188 221.5h1M197 221.5h1M200 221.5h1M203 221.5h7M213 221.5h1M215 221.5h1M217 221.5h1M219 221.5h1M224 221.5h1M191 222.5h1M195 222.5h1M197 222.5h4M202 222.5h7M211 222.5h1M213 222.5h4M218 222.5h2M193 223.5h3M198 223.5h13M212 223.5h1M215 223.5h5M190 224.5h1M195 224.5h1M197 224.5h17M215 224.5h1M217 224.5h3M223 224.5h2M184 225.5h1M191 225.5h4M198 225.5h13M212 225.5h4M217 225.5h3M193 226.5h2M196 226.5h20M219 226.5h1M221 226.5h2M224 226.5h1M183 227.5h1M189 227.5h1M195 227.5h2M198 227.5h16M216 227.5h3M220 227.5h1M189 228.5h1M191 228.5h3M196 228.5h1M198 228.5h16M217 228.5h2M223 228.5h1M225 228.5h1M185 229.5h1M187 229.5h1M192 229.5h1M194 229.5h1M196 229.5h23M222 229.5h1M185 230.5h1M188 230.5h1M190 230.5h1M192 230.5h1M194 230.5h1M196 230.5h26M188 231.5h1M192 231.5h24M217 231.5h1M219 231.5h1M221 231.5h1M224 231.5h1M226 231.5h1M185 232.5h3M190 232.5h3M194 232.5h26M224 232.5h1M187 233.5h2M191 233.5h3M195 233.5h21M217 233.5h2M226 233.5h2M180 234.5h1M185 234.5h2M189 234.5h27M217 234.5h2M228 234.5h1M185 235.5h1M189 235.5h3M193 235.5h24M218 235.5h1M222 235.5h1M224 235.5h1M183 236.5h1M186 236.5h1M188 236.5h2M191 236.5h26M177 237.5h1M183 237.5h1M185 237.5h1M187 237.5h1M189 237.5h1M191 237.5h23M215 237.5h1M220 237.5h1M222 237.5h1M229 237.5h1M178 238.5h1M180 238.5h1M184 238.5h1M186 238.5h4M192 238.5h23M216 238.5h3M225 238.5h2M185 239.5h3M189 239.5h26M217 239.5h1M219 239.5h1M179 240.5h5M185 240.5h2M188 240.5h31M221 240.5h2M224 240.5h1M179 241.5h1M181 241.5h2M184 241.5h2M187 241.5h27M216 241.5h1M218 241.5h3M224 241.5h1M178 242.5h1M181 242.5h3M185 242.5h31M217 242.5h1M222 242.5h1M179 243.5h5M185 243.5h28M215 243.5h1M217 243.5h1M178 244.5h2M181 244.5h2M185 244.5h26M212 244.5h2M179 245.5h2M184 245.5h2M187 245.5h23M211 245.5h3M219 245.5h1M222 245.5h1M178 246.5h1M180 246.5h33M214 246.5h3M179 247.5h1M181 247.5h29M211 247.5h1M214 247.5h1M219 247.5h1M179 248.5h34M216 248.5h1M222 248.5h1M179 249.5h3M183 249.5h26M210 249.5h2M218 249.5h1M179 250.5h1M181 250.5h26M208 250.5h2M211 250.5h1M215 250.5h1M180 251.5h1M182 251.5h2M185 251.5h16M202 251.5h4M208 251.5h3M216 251.5h1M222 251.5h1M179 252.5h2M182 252.5h1M185 252.5h22M208 252.5h2M219 252.5h1M180 253.5h10M191 253.5h6M198 253.5h5M204 253.5h5M216 253.5h1M181 254.5h1M183 254.5h4M189 254.5h5M195 254.5h5M201 254.5h3M205 254.5h4M210 254.5h1M213 254.5h1M216 254.5h1M178 255.5h1M180 255.5h1M182 255.5h2M185 255.5h1M187 255.5h5M193 255.5h7M202 255.5h1M204 255.5h1M209 255.5h1M183 256.5h1M185 256.5h2M188 256.5h2M191 256.5h2M195 256.5h6M203 256.5h1M206 256.5h1M209 256.5h2M212 256.5h1M182 257.5h5M188 257.5h2M191 257.5h4M196 257.5h2M201 257.5h1M205 257.5h1M217 257.5h1M180 258.5h1M184 258.5h1M187 258.5h2M191 258.5h2M205 258.5h3M192 259.5h2M205 259.5h2M208 259.5h1" stroke="#000" stroke-width="1" fill="none" filter="url(#sb)"/><rect x="163.5" y="201.3" width="80.80" height="60.90" fill="none" stroke="#111" stroke-width="1.4"/><path d="M163.5 262.20h-3.0M163.5 259.76h-1.8M163.5 257.33h-1.8M163.5 254.89h-1.8M163.5 252.46h-1.8M163.5 250.02h-3.0M163.5 247.58h-1.8M163.5 245.15h-1.8M163.5 242.71h-1.8M163.5 240.28h-1.8M163.5 237.84h-3.0M163.5 235.40h-1.8M163.5 232.97h-1.8M163.5 230.53h-1.8M163.5 228.10h-1.8M163.5 225.66h-3.0M163.5 223.22h-1.8M163.5 220.79h-1.8M163.5 218.35h-1.8M163.5 215.92h-1.8M163.5 213.48h-3.0M163.5 211.04h-1.8M163.5 208.61h-1.8M163.5 206.17h-1.8M163.5 203.74h-1.8M163.5 201.30h-3.0M163.50 262.2v3.0M166.73 262.2v1.8M169.96 262.2v1.8M173.20 262.2v1.8M176.43 262.2v1.8M179.66 262.2v3.0M182.89 262.2v1.8M186.12 262.2v1.8M189.36 262.2v1.8M192.59 262.2v1.8M195.82 262.2v3.0M199.05 262.2v1.8M202.28 262.2v1.8M205.52 262.2v1.8M208.75 262.2v1.8M211.98 262.2v3.0M215.21 262.2v1.8M218.44 262.2v1.8M221.68 262.2v1.8M224.91 262.2v1.8M228.14 262.2v3.0M231.37 262.2v1.8M234.60 262.2v1.8M237.84 262.2v1.8M241.07 262.2v1.8M244.30 262.2v3.0" stroke="#111" stroke-width="1" fill="none"/><text x="157.2" y="203.3" transform="rotate(-90 157.2 203.3)" text-anchor="middle" font-family="'Liberation Sans', Arial, sans-serif" font-size="7.4" font-weight="bold" textLength="13.8" lengthAdjust="spacingAndGlyphs">1000</text><text x="157.2" y="261.4" transform="rotate(-90 157.2 261.4)" text-anchor="middle" font-family="'Liberation Sans', Arial, sans-serif" font-size="7.4" font-weight="bold">0</text><text x="164.5" y="272.3" text-anchor="middle" font-family="'Liberation Sans', Arial, sans-serif" font-size="7.4" font-weight="bold">0</text><text x="242.3" y="272.3" text-anchor="middle" font-family="'Liberation Sans', Arial, sans-serif" font-size="7.4" font-weight="bold" textLength="14.8" lengthAdjust="spacingAndGlyphs">1000</text></g>
<text x="2.6" y="15.2" font-family="'Liberation Sans', Arial, sans-serif" font-weight="bold" font-size="17" text-anchor="start" >A</text><text x="95.4" y="27" font-family="'Liberation Serif', 'Times New Roman', serif" font-weight="bold" font-size="12.4" text-anchor="middle" stroke="#000" stroke-width="0.3" >Uninduced</text><text x="199.1" y="27" font-family="'Liberation Serif', 'Times New Roman', serif" font-weight="bold" font-size="12.4" text-anchor="middle" stroke="#000" stroke-width="0.3" >Induced</text><text x="29" y="60.7" font-family="'Liberation Serif', 'Times New Roman', serif" font-weight="bold" font-size="10.2" text-anchor="middle" stroke="#000" stroke-width="0.3" >HEL</text><text x="29" y="72.7" font-family="'Liberation Serif', 'Times New Roman', serif" font-weight="bold" font-size="10.2" text-anchor="middle" stroke="#000" stroke-width="0.3" >only</text><text x="29" y="144" font-family="'Liberation Serif', 'Times New Roman', serif" font-weight="bold" font-size="10.2" text-anchor="middle" stroke="#000" stroke-width="0.3" >HEL</text><text x="29" y="156" font-family="'Liberation Serif', 'Times New Roman', serif" font-weight="bold" font-size="10.2" text-anchor="middle" stroke="#000" stroke-width="0.3" >+</text><text x="29" y="168" font-family="'Liberation Serif', 'Times New Roman', serif" font-weight="bold" font-size="10.2" text-anchor="middle" stroke="#000" stroke-width="0.3" >Stroma</text><text x="28" y="214.4" font-family="'Liberation Serif', 'Times New Roman', serif" font-weight="bold" font-size="10.2" text-anchor="middle" stroke="#000" stroke-width="0.3" >HEL</text><text x="28" y="226.4" font-family="'Liberation Serif', 'Times New Roman', serif" font-weight="bold" font-size="10.2" text-anchor="middle" stroke="#000" stroke-width="0.3" >+</text><text x="28" y="238.6" font-family="'Liberation Serif', 'Times New Roman', serif" font-weight="bold" font-size="10.2" text-anchor="middle" stroke="#000" stroke-width="0.3" >Transwell</text><text x="28" y="250.6" font-family="'Liberation Serif', 'Times New Roman', serif" font-weight="bold" font-size="10.2" text-anchor="middle" stroke="#000" stroke-width="0.3" >+</text><text x="28" y="263.4" font-family="'Liberation Serif', 'Times New Roman', serif" font-weight="bold" font-size="10.2" text-anchor="middle" stroke="#000" stroke-width="0.3" >Stroma</text><text x="149.8" y="286.6" font-family="'Liberation Serif', 'Times New Roman', serif" font-weight="bold" font-size="10.2" text-anchor="middle" stroke="#000" stroke-width="0.3" >Forward Scatter</text><text x="261.3" y="155.4" font-family="'Liberation Serif', 'Times New Roman', serif" font-weight="bold" font-size="10.0" text-anchor="middle" stroke="#000" stroke-width="0.3" transform="rotate(-90 261.3 155.4)">Side Scatter</text><text x="280.6" y="15.2" font-family="'Liberation Sans', Arial, sans-serif" font-weight="bold" font-size="17" text-anchor="start" >B</text><text x="410.2" y="28" font-family="'Liberation Serif', 'Times New Roman', serif" font-weight="bold" font-size="12.6" text-anchor="middle" stroke="#000" stroke-width="0.3" >α-GPA</text><text x="404.4" y="146.8" font-family="'Liberation Serif', 'Times New Roman', serif" font-weight="bold" font-size="10.3" text-anchor="middle" stroke="#000" stroke-width="0.3" >Log Fluorescence Intensity</text><text x="291.6" y="77.4" font-family="'Liberation Serif', 'Times New Roman', serif" font-weight="bold" font-size="10.1" text-anchor="middle" stroke="#000" stroke-width="0.3" transform="rotate(-90 291.6 77.4)">Cell Number</text><path d="M317.5 50h26" stroke="#000" stroke-width="1.5"/><path d="M317.5 69.5h26" stroke="#22905a" stroke-width="1.6"/><path d="M317.5 89h31" stroke="#b0406a" stroke-width="1.5" stroke-dasharray="1.5 1.5"/><text x="351" y="51" font-family="'Liberation Serif', 'Times New Roman', serif" font-weight="bold" font-size="10.1" text-anchor="start" stroke="#000" stroke-width="0.3" >Uninduced</text><text x="351" y="69" font-family="'Liberation Serif', 'Times New Roman', serif" font-weight="bold" font-size="10.1" text-anchor="start" stroke="#000" stroke-width="0.3" >Induced</text><text x="351" y="89.2" font-family="'Liberation Serif', 'Times New Roman', serif" font-weight="bold" font-size="10.1" text-anchor="start" stroke="#000" stroke-width="0.3" >Induced +</text><text x="350" y="101.6" font-family="'Liberation Serif', 'Times New Roman', serif" font-weight="bold" font-size="10.1" text-anchor="start" stroke="#000" stroke-width="0.3" >Stroma</text><text x="281.5" y="182.6" font-family="'Liberation Sans', Arial, sans-serif" font-weight="bold" font-size="16.2" text-anchor="start" >C</text><text x="359" y="187" font-family="'Liberation Serif', 'Times New Roman', serif" font-weight="bold" font-size="12.4" text-anchor="end" stroke="#000" stroke-width="0.3" >TPA:</text><text x="359" y="205.6" font-family="'Liberation Serif', 'Times New Roman', serif" font-weight="bold" font-size="12.4" text-anchor="end" stroke="#000" stroke-width="0.3" >Stroma:</text><path d="M379.8 179.0h4M406.3 179.2h7.8M410.2 175.4v7.6M433.0 179.0h4M456.1 179.2h7.8M460.0 175.4v7.6M379.8 199.6h4M406.3 199.8h4M429.6 199.3h7.8M433.5 195.5v7.6M456.1 199.3h7.8M460.0 195.5v7.6" stroke="#111" stroke-width="1.8" fill="none"/><text x="339.7" y="227.1" font-family="'Liberation Serif', 'Times New Roman', serif" font-weight="bold" font-size="10.3" text-anchor="middle" stroke="#000" stroke-width="0.3" >Rap1-GTP</text><text x="338.1" y="257.2" font-family="'Liberation Serif', 'Times New Roman', serif" font-weight="bold" font-size="10.3" text-anchor="middle" stroke="#000" stroke-width="0.3" >Rap1-total</text><rect x="305.2" y="30.4" width="208.7" height="97.6" fill="none" stroke="#222" stroke-width="1.1"/><path d="M305.2 128.00h-2.2M305.2 124.10h-1.3M305.2 120.19h-1.3M305.2 116.29h-1.3M305.2 112.38h-1.3M305.2 108.48h-2.2M305.2 104.58h-1.3M305.2 100.67h-1.3M305.2 96.77h-1.3M305.2 92.86h-1.3M305.2 88.96h-2.2M305.2 85.06h-1.3M305.2 81.15h-1.3M305.2 77.25h-1.3M305.2 73.34h-1.3M305.2 69.44h-2.2M305.2 65.54h-1.3M305.2 61.63h-1.3M305.2 57.73h-1.3M305.2 53.82h-1.3M305.2 49.92h-2.2M305.2 46.02h-1.3M305.2 42.11h-1.3M305.2 38.21h-1.3M305.2 34.30h-1.3M305.2 30.40h-2.2M305.20 128.0v2.4M320.91 128.0v1.3M330.09 128.0v1.3M336.61 128.0v1.3M341.67 128.0v1.3M345.80 128.0v1.3M349.29 128.0v1.3M352.32 128.0v1.3M354.99 128.0v1.3M357.38 128.0v2.4M373.08 128.0v1.3M382.27 128.0v1.3M388.79 128.0v1.3M393.84 128.0v1.3M397.98 128.0v1.3M401.47 128.0v1.3M404.49 128.0v1.3M407.16 128.0v1.3M409.55 128.0v2.4M425.26 128.0v1.3M434.44 128.0v1.3M440.96 128.0v1.3M446.02 128.0v1.3M450.15 128.0v1.3M453.64 128.0v1.3M456.67 128.0v1.3M459.34 128.0v1.3M461.72 128.0v2.4M477.43 128.0v1.3M486.62 128.0v1.3M493.14 128.0v1.3M498.19 128.0v1.3M502.33 128.0v1.3M505.82 128.0v1.3M508.84 128.0v1.3M511.51 128.0v1.3M513.9 128.0v2.4" stroke="#222" stroke-width="0.7" fill="none"/><text x="301.7" y="128.0" transform="rotate(-90 301.7 128.0)" text-anchor="middle" font-family="'Liberation Sans', Arial, sans-serif" font-weight="bold" font-size="5.2">0</text><text x="301.7" y="108.5" transform="rotate(-90 301.7 108.5)" text-anchor="middle" font-family="'Liberation Sans', Arial, sans-serif" font-weight="bold" font-size="5.2">20</text><text x="301.7" y="89.0" transform="rotate(-90 301.7 89.0)" text-anchor="middle" font-family="'Liberation Sans', Arial, sans-serif" font-weight="bold" font-size="5.2">40</text><text x="301.7" y="69.4" transform="rotate(-90 301.7 69.4)" text-anchor="middle" font-family="'Liberation Sans', Arial, sans-serif" font-weight="bold" font-size="5.2">60</text><text x="301.7" y="49.9" transform="rotate(-90 301.7 49.9)" text-anchor="middle" font-family="'Liberation Sans', Arial, sans-serif" font-weight="bold" font-size="5.2">80</text><text x="301.7" y="30.4" transform="rotate(-90 301.7 30.4)" text-anchor="middle" font-family="'Liberation Sans', Arial, sans-serif" font-weight="bold" font-size="5.2">100</text><text x="305.2" y="135.5" text-anchor="middle" font-family="'Liberation Sans', Arial, sans-serif" font-weight="bold" font-size="5.2">10<tspan dy="-2" font-size="3.6">0</tspan></text><text x="357.4" y="135.5" text-anchor="middle" font-family="'Liberation Sans', Arial, sans-serif" font-weight="bold" font-size="5.2">10<tspan dy="-2" font-size="3.6">1</tspan></text><text x="409.5" y="135.5" text-anchor="middle" font-family="'Liberation Sans', Arial, sans-serif" font-weight="bold" font-size="5.2">10<tspan dy="-2" font-size="3.6">2</tspan></text><text x="461.7" y="135.5" text-anchor="middle" font-family="'Liberation Sans', Arial, sans-serif" font-weight="bold" font-size="5.2">10<tspan dy="-2" font-size="3.6">3</tspan></text><text x="513.9" y="135.5" text-anchor="middle" font-family="'Liberation Sans', Arial, sans-serif" font-weight="bold" font-size="5.2">10<tspan dy="-2" font-size="3.6">4</tspan></text><path d="M305.5 127.7 306.5 127.7 307.5 127.4 308.5 127.7 309.5 127.5 310.5 127.7 311.5 127.2 312.5 127.7 313.5 126.7 314.5 127.7 315.5 127.2 316.5 127.7 317.5 127.1 318.5 127.7 319.5 126.5 320.5 127.7 321.5 127.0 322.5 127.4 323.5 125.3 324.5 125.6 325.5 124.6 326.5 127.7 327.5 123.9 328.5 125.0 329.5 122.5 330.5 124.5 331.5 122.3 332.5 125.9 333.5 122.6 334.5 124.1 335.5 120.8 336.5 122.8 337.5 119.1 338.5 123.1 339.5 121.1 340.5 122.9 341.5 119.5 342.5 122.7 343.5 116.2 344.5 120.0 345.5 117.5 346.5 121.7 347.5 116.6 348.5 119.1 349.5 116.9 350.5 120.4 351.5 114.9 352.5 118.7 353.5 113.8 354.5 120.3 355.5 116.6 356.5 119.2 357.5 116.3 358.5 121.0 359.5 115.1 360.5 120.3 361.5 117.8 362.5 121.6 363.5 118.6 364.5 120.1 365.5 118.7 366.5 121.7 367.5 117.0 368.5 121.4 369.5 117.6 370.5 120.4 371.5 117.6 372.5 121.1 373.5 117.3 374.5 121.5 375.5 118.9 376.5 123.9 377.5 118.2 378.5 122.0 379.5 121.6 380.5 123.1 381.5 122.3 382.5 122.5 383.5 124.0 384.5 125.2 385.5 122.2 386.5 124.4 387.5 120.9 388.5 124.6 389.5 120.7 390.5 124.2 391.5 123.0 392.5 124.1 393.5 119.1 394.5 122.8 395.5 118.9 396.5 122.9 397.5 119.6 398.5 123.5 399.5 121.5 400.5 123.5 401.5 119.9 402.5 122.9 403.5 121.1 404.5 121.4 405.5 120.5 406.5 124.0 407.5 119.5 408.5 121.6 409.5 121.3 410.5 121.7 411.5 119.1 412.5 122.8 413.5 120.4 414.5 122.7 415.5 117.8 416.5 120.8 417.5 119.0 418.5 120.7 419.5 119.0 420.5 120.0 421.5 118.6 422.5 122.8 423.5 119.0 424.5 123.1 425.5 117.0 426.5 122.8 427.5 117.8 428.5 121.1 429.5 116.6 430.5 116.3 431.5 113.4 432.5 115.9 433.5 110.1 434.5 112.0 435.5 107.3 436.5 107.3 437.5 101.9 438.5 106.3 439.5 96.1 440.5 100.4 441.5 88.5 442.5 93.5 443.5 90.1 444.5 86.9 445.5 82.2 446.5 83.5 447.5 70.8 448.5 73.7 449.5 62.8 450.5 67.0 451.5 57.3 452.5 59.1 453.5 47.5 454.5 48.9 455.5 34.2 456.5 48.0 457.5 41.1 458.5 49.9 459.5 47.1 460.5 62.2 461.5 52.9 462.5 65.4 463.5 70.6 464.5 85.8 465.5 90.4 466.5 98.2 467.5 97.3 468.5 111.6 469.5 109.6 470.5 120.5 471.5 119.2 472.5 121.2 473.5 122.3 474.5 125.0 475.5 123.3 476.5 125.6 477.5 124.8 478.5 125.2 479.5 124.2 480.5 126.4 481.5 125.5 482.5 127.4 483.5 125.0 484.5 127.7 485.5 125.2 486.5 126.6 487.5 125.5 488.5 127.7 489.5 126.2 490.5 127.7 491.5 126.9 492.5 127.2 493.5 126.0 494.5 127.7 495.5 126.6 496.5 127.7 497.5 126.4 498.5 127.6 499.5 126.5 500.5 127.7 501.5 126.9 502.5 127.7 503.5 126.1 504.5 127.7 505.5 126.7 506.5 127.5 507.5 126.9 508.5 127.7 509.5 126.2 510.5 127.7 511.5 126.6 512.5 127.7" fill="none" stroke="#e8889f" stroke-width="1" stroke-dasharray="1.3 0.9"/><path d="M305.5 127.1 306.5 127.7 307.5 126.0 308.5 127.3 309.5 126.6 310.5 127.7 311.5 126.2 312.5 126.9 313.5 127.4 314.5 127.7 315.5 126.9 316.5 127.7 317.5 127.7 318.5 127.7 319.5 126.5 320.5 127.6 321.5 126.5 322.5 127.3 323.5 126.3 324.5 127.7 325.5 125.9 326.5 127.7 327.5 125.6 328.5 126.4 329.5 126.1 330.5 127.1 331.5 125.4 332.5 127.7 333.5 125.0 334.5 127.7 335.5 126.1 336.5 127.7 337.5 125.7 338.5 126.4 339.5 124.7 340.5 126.3 341.5 126.1 342.5 127.5 343.5 126.7 344.5 126.9 345.5 125.0 346.5 127.7 347.5 125.0 348.5 125.9 349.5 125.2 350.5 127.3 351.5 123.8 352.5 125.3 353.5 124.7 354.5 126.0 355.5 123.4 356.5 126.3 357.5 124.1 358.5 127.7 359.5 123.7 360.5 125.2 361.5 122.2 362.5 124.5 363.5 124.2 364.5 125.1 365.5 123.0 366.5 126.3 367.5 122.7 368.5 125.0 369.5 120.6 370.5 126.3 371.5 121.4 372.5 125.3 373.5 123.5 374.5 122.8 375.5 119.7 376.5 123.7 377.5 120.9 378.5 124.2 379.5 120.1 380.5 123.2 381.5 117.3 382.5 122.0 383.5 118.2 384.5 118.1 385.5 110.7 386.5 116.9 387.5 111.2 388.5 114.6 389.5 106.5 390.5 109.8 391.5 102.8 392.5 110.4 393.5 101.5 394.5 103.1 395.5 98.3 396.5 104.8 397.5 91.4 398.5 98.2 399.5 93.2 400.5 100.3 401.5 87.9 402.5 90.4 403.5 85.9 404.5 87.8 405.5 74.0 406.5 79.7 407.5 68.6 408.5 82.3 409.5 66.3 410.5 85.5 411.5 68.4 412.5 63.6 413.5 57.5 414.5 67.3 415.5 67.3 416.5 65.9 417.5 67.6 418.5 72.7 419.5 65.1 420.5 70.7 421.5 56.1 422.5 79.6 423.5 66.4 424.5 85.3 425.5 74.1 426.5 81.9 427.5 77.7 428.5 89.4 429.5 92.0 430.5 101.3 431.5 95.3 432.5 103.8 433.5 100.1 434.5 110.1 435.5 104.9 436.5 117.8 437.5 108.8 438.5 119.6 439.5 111.1 440.5 117.2 441.5 116.3 442.5 120.0 443.5 118.0 444.5 121.0 445.5 120.4 446.5 124.0 447.5 121.4 448.5 122.9 449.5 121.0 450.5 125.3 451.5 120.3 452.5 126.2 453.5 122.4 454.5 126.7 455.5 125.9 456.5 127.2 457.5 123.1 458.5 126.7 459.5 125.7 460.5 126.5 461.5 126.0 462.5 127.7 463.5 125.8 464.5 127.7 465.5 126.0 466.5 126.5 467.5 126.3 468.5 127.5 469.5 126.9 470.5 127.6 471.5 127.5 472.5 127.7 473.5 126.8 474.5 127.1 475.5 126.6 476.5 127.7 477.5 127.0 478.5 127.4 479.5 126.8 480.5 127.7 481.5 126.8 482.5 127.7 483.5 126.3 484.5 127.7 485.5 126.6 486.5 127.7 487.5 126.4 488.5 127.7 489.5 127.5 490.5 127.7 491.5 127.0 492.5 127.7 493.5 126.9 494.5 127.5 495.5 126.9 496.5 127.7 497.5 127.5 498.5 127.6 499.5 127.3 500.5 127.7 501.5 127.2 502.5 127.7 503.5 126.8 504.5 127.7 505.5 126.8 506.5 127.7 507.5 127.5 508.5 127.7 509.5 126.6 510.5 127.7 511.5 127.3 512.5 127.7" fill="none" stroke="#20905a" stroke-width="1.35"/><path d="M305.5 127.5 306.5 127.6 307.5 127.4 308.5 127.7 309.5 127.3 310.5 127.7 311.5 126.9 312.5 127.7 313.5 127.4 314.5 127.7 315.5 127.2 316.5 127.7 317.5 127.0 318.5 127.6 319.5 127.4 320.5 127.7 321.5 126.5 322.5 127.5 323.5 127.2 324.5 127.7 325.5 127.2 326.5 127.6 327.5 127.1 328.5 127.7 329.5 126.8 330.5 127.7 331.5 127.4 332.5 127.7 333.5 127.1 334.5 127.5 335.5 126.4 336.5 127.5 337.5 127.0 338.5 127.7 339.5 127.0 340.5 127.7 341.5 126.4 342.5 127.7 343.5 126.9 344.5 127.5 345.5 126.5 346.5 127.6 347.5 127.4 348.5 127.7 349.5 127.0 350.5 127.2 351.5 127.1 352.5 127.6 353.5 126.8 354.5 127.0 355.5 126.1 356.5 127.0 357.5 127.2 358.5 127.5 359.5 126.9 360.5 127.4 361.5 126.9 362.5 127.3 363.5 126.3 364.5 127.6 365.5 126.3 366.5 127.1 367.5 127.0 368.5 127.5 369.5 126.7 370.5 127.5 371.5 126.3 372.5 127.3 373.5 126.5 374.5 127.6 375.5 126.5 376.5 127.5 377.5 126.8 378.5 127.4 379.5 126.2 380.5 127.1 381.5 126.1 382.5 127.3 383.5 126.4 384.5 127.6 385.5 126.3 386.5 126.8 387.5 126.3 388.5 127.0 389.5 126.5 390.5 126.4 391.5 126.0 392.5 126.8 393.5 125.5 394.5 126.8 395.5 125.8 396.5 126.2 397.5 125.2 398.5 127.1 399.5 124.8 400.5 126.6 401.5 124.6 402.5 125.9 403.5 125.4 404.5 126.5 405.5 124.6 406.5 125.4 407.5 124.5 408.5 125.9 409.5 124.8 410.5 125.7 411.5 125.0 412.5 125.3 413.5 124.7 414.5 125.2 415.5 125.2 416.5 125.5 417.5 124.7 418.5 125.7 419.5 124.3 420.5 125.2 421.5 123.2 422.5 124.9 423.5 122.5 424.5 125.0 425.5 122.6 426.5 123.2 427.5 120.4 428.5 122.6 429.5 121.2 430.5 122.1 431.5 119.7 432.5 121.5 433.5 118.3 434.5 119.6 435.5 117.6 436.5 118.6 437.5 116.4 438.5 118.4 439.5 113.4 440.5 116.8 441.5 113.0 442.5 114.7 443.5 109.5 444.5 109.1 445.5 107.6 446.5 107.3 447.5 104.5 448.5 104.8 449.5 98.3 450.5 101.5 451.5 93.6 452.5 93.1 453.5 85.0 454.5 89.5 455.5 80.9 456.5 78.2 457.5 70.1 458.5 66.6 459.5 53.4 460.5 50.3 461.5 36.0 462.5 32.2 463.5 30.7 464.5 31.3 465.5 30.7 466.5 32.6 467.5 30.7 468.5 34.4 469.5 37.0 470.5 50.9 471.5 51.5 472.5 71.0 473.5 75.1 474.5 87.8 475.5 93.8 476.5 104.7 477.5 107.7 478.5 115.8 479.5 116.0 480.5 120.0 481.5 119.6 482.5 121.3 483.5 120.9 484.5 123.5 485.5 122.8 486.5 124.1 487.5 123.6 488.5 126.1 489.5 125.0 490.5 126.3 491.5 125.7 492.5 126.9 493.5 125.9 494.5 127.0 495.5 126.8 496.5 127.1 497.5 126.9 498.5 127.0 499.5 127.2 500.5 127.6 501.5 126.7 502.5 127.7 503.5 126.6 504.5 127.7 505.5 126.9 506.5 127.7 507.5 126.9 508.5 127.4 509.5 127.2 510.5 127.6 511.5 127.1 512.5 127.7" fill="none" stroke="#111" stroke-width="1"/><defs><filter id="b1" x="-20%" y="-60%" width="140%" height="220%"><feGaussianBlur stdDeviation="1.0 0.7"/></filter><filter id="b2" x="-20%" y="-60%" width="140%" height="220%"><feGaussianBlur stdDeviation="1.5 1.3"/></filter><filter id="b3" x="-20%" y="-60%" width="140%" height="220%"><feGaussianBlur stdDeviation="1.0 0.75"/></filter><filter id="b0" x="-10%" y="-10%" width="120%" height="120%"><feGaussianBlur stdDeviation="0.4"/></filter><linearGradient id="sm" x1="0" y1="0" x2="0" y2="1"><stop offset="0" stop-color="#d6d6d6"/><stop offset="1" stop-color="#9a9a9a"/></linearGradient></defs><rect x="368" y="212.4" width="106.6" height="23.4" fill="#e8e8e8" filter="url(#b0)"/><g filter="url(#b1)"><rect x="371.5" y="218.8" width="19" height="5.6" rx="2.8" fill="#363636"/><rect x="400.3" y="217.6" width="24.5" height="8.6" rx="4.2" fill="#181818"/><rect x="427.2" y="221.2" width="21" height="3.0" rx="1.5" fill="#333"/><rect x="454" y="221.0" width="16.8" height="2.6" rx="1.3" fill="#484848"/></g><rect x="368.2" y="243.6" width="105.6" height="29.4" fill="#e8e8e8" filter="url(#b0)"/><g filter="url(#b2)"><rect x="377" y="244.5" width="50" height="8" fill="url(#sm)"/><rect x="428" y="246" width="45" height="7" fill="#d0d0d0"/></g><g filter="url(#b3)"><rect x="377" y="250.8" width="26.5" height="10.4" rx="5" fill="#1c1c1c"/><rect x="377.6" y="261.3" width="25" height="3.6" rx="1.8" fill="#232323"/><rect x="402" y="249.8" width="24.6" height="15.6" rx="5.5" fill="#1a1a1a"/><rect x="426.3" y="252.8" width="22.2" height="7.4" rx="3.7" fill="#202020"/><rect x="426.8" y="261" width="21.4" height="3.3" rx="1.6" fill="#2c2c2c"/><rect x="449.3" y="253" width="23.6" height="7.3" rx="3.6" fill="#202020"/><rect x="449.8" y="261.1" width="22.4" height="3.1" rx="1.5" fill="#2e2e2e"/></g>
</svg>
</body></html>
